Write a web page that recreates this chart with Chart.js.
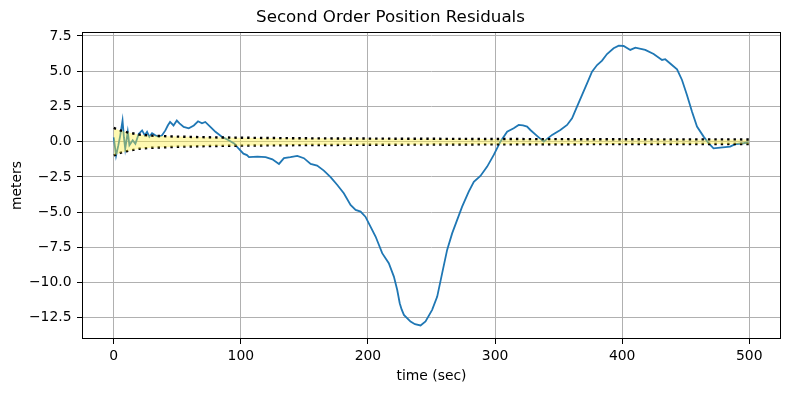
<!DOCTYPE html>
<html>
<head>
<meta charset="utf-8">
<script src="https://cdn.jsdelivr.net/npm/chart.js@4.4.1/dist/chart.umd.min.js"></script>
<style>
  html, body { margin: 0; padding: 0; background: #fff; }
  #wrap { width: 789px; height: 393px; }
</style>
</head>
<body>
<div id="wrap"><canvas id="c" width="789" height="393"></canvas></div>
<script>
// residual trace
const timeSec = [0, 1.8, 3.5, 5, 6.9, 8, 9, 11, 12.3, 14.9, 17, 19.6, 22.3, 24.4, 26.2, 28, 30.1, 32.7, 35.4, 38,
  40.6, 42.5, 44.3, 47, 49.6, 51.7, 55, 59, 63, 66.3, 69.4, 72, 76, 80, 85, 90.4, 95, 98.3, 102, 104.8,
  106.4, 113, 119.5, 124.8, 130, 133.9, 139, 144.4, 149.6, 154.9, 160, 165.3, 170.6, 175.9, 181, 186.3, 190.3, 194.2, 198, 202,
  206, 211.2, 216.4, 220.4, 223, 225, 226.5, 228.3, 233.5, 237, 241.4, 245.3, 250.5, 254.5, 258.4, 262.3, 266.3, 270.2, 274.1, 279.3,
  283.3, 288.5, 293.8, 299, 304.2, 309.5, 314.7, 318.6, 322, 325.2, 327.8, 333, 338.3, 344.9, 351.4, 356.7, 360.6, 364.5, 368.5, 372.4,
  376.3, 380.3, 384.2, 388.1, 393.3, 397.3, 401.2, 406.4, 410.4, 418.2, 424.8, 431.4, 433.9, 439.2, 443.2, 447.1, 451, 455, 458.9, 464.1,
  468, 471.9, 477.2, 485, 489, 495.5, 499.5];
const residual = [0.3, -1.0, -0.3, 0.4, 1.5, 0.3, -0.5, 0.7, -0.25, 0.1, -0.15, 0.55, 0.8, 0.45, 0.7, 0.35, 0.6, 0.45, 0.35, 0.45,
  0.8, 1.15, 1.4, 1.15, 1.5, 1.3, 1.05, 0.95, 1.15, 1.45, 1.3, 1.4, 1.05, 0.7, 0.35, 0.1, -0.15, -0.5, -0.85, -0.95,
  -1.1, -1.06, -1.1, -1.25, -1.58, -1.17, -1.1, -1.01, -1.17, -1.58, -1.7, -2.05, -2.52, -3.07, -3.66, -4.49, -4.84, -4.96, -5.32, -6.03,
  -6.73, -7.91, -8.62, -9.57, -10.51, -11.46, -11.9, -12.29, -12.76, -12.95, -13.04, -12.76, -11.93, -10.99, -9.33, -7.68, -6.49, -5.55, -4.61, -3.54,
  -2.84, -2.43, -1.77, -0.94, 0, 0.71, 0.95, 1.19, 1.15, 1.07, 0.83, 0.41, 0, 0.48, 0.83, 1.19, 1.66, 2.49, 3.32, 4.14,
  4.97, 5.44, 5.75, 6.22, 6.63, 6.81, 6.79, 6.51, 6.67, 6.51, 6.22, 5.8, 5.85, 5.44, 5.14, 4.38, 3.32, 2.13, 1.07, 0.36,
  -0.11, -0.47, -0.42, -0.35, -0.18, -0.11, -0.04];

// one-sigma envelope
const bandTime = [0, 5, 10, 20, 30, 50, 75, 100, 150, 200, 300, 400, 500];
const bandSigma = [0.98, 0.8, 0.68, 0.5, 0.43, 0.36, 0.31, 0.28, 0.24, 0.22, 0.19, 0.17, 0.16];

const xTicks = [0, 100, 200, 300, 400, 500];
const yTicks = [-12.5, -10, -7.5, -5, -2.5, 0, 2.5, 5, 7.5];

const FONT = 'DejaVu Sans';

const pts = (xs, ys) => xs.map((x, i) => ({ x: x, y: ys[i] }));

// matplotlib style closed frame
const frame = {
    id: 'frame',
    afterDatasetsDraw(chart) {
        const a = chart.chartArea, ctx = chart.ctx;
        ctx.save();
        ctx.strokeStyle = '#000';
        ctx.lineWidth = 1;
        ctx.strokeRect(Math.round(a.left) + 0.5, Math.round(a.top) + 0.5,
            Math.round(a.right - a.left) - 1, Math.round(a.bottom - a.top) - 1);
        ctx.restore();
    }
};

new Chart(document.getElementById('c'), {
    type: 'line',
    data: {
        datasets: [
            {
                label: 'upper',
                data: pts(bandTime, bandSigma),
                borderColor: '#000',
                borderWidth: 2.4,
                borderDash: [2.4, 4],
                backgroundColor: 'rgba(255, 240, 60, 0.4)',
                fill: '+1',
                order: 1
            },
            {
                label: 'lower',
                data: pts(bandTime, bandSigma.map(s => -s)),
                borderColor: '#000',
                borderWidth: 2.4,
                borderDash: [2.4, 4],
                fill: false,
                order: 1
            },
            {
                label: 'residual',
                data: pts(timeSec, residual),
                borderColor: '#1f77b4',
                borderWidth: 1.8,
                fill: false,
                order: 2
            }
        ]
    },
    options: {
        responsive: false,
        devicePixelRatio: 1,
        animation: false,
        elements: { point: { radius: 0 }, line: { tension: 0 } },
        layout: { padding: { left: 0, right: 8, top: 0, bottom: 0 } },
        plugins: {
            legend: { display: false },
            tooltip: { enabled: false },
            title: {
                display: true,
                text: 'Second Order Position Residuals',
                color: '#000',
                font: { family: FONT, size: 16.7, weight: 'normal', lineHeight: 1.2 },
                padding: { top: 7.5, bottom: 4.5 }
            }
        },
        scales: {
            x: {
                type: 'linear',
                min: -25,
                max: 525,
                afterBuildTicks: s => { s.ticks = xTicks.map(v => ({ value: v })); },
                afterFit: s => { s.height = 54; },
                ticks: {
                    color: '#000',
                    font: { family: FONT, size: 13.9 },
                    padding: 4,
                    maxRotation: 0,
                    callback: v => String(v)
                },
                grid: { color: '#b0b0b0', lineWidth: 1, tickColor: '#000', tickLength: 5 },
                border: { display: false },
                title: {
                    display: true,
                    text: 'time (sec)',
                    color: '#000',
                    font: { family: FONT, size: 13.9 },
                    padding: { top: 0, bottom: 8.7 }
                }
            },
            y: {
                type: 'linear',
                min: -14.0,
                max: 7.78,
                afterBuildTicks: s => { s.ticks = yTicks.map(v => ({ value: v })); },
                afterFit: s => { s.width = 82; },
                ticks: {
                    color: '#000',
                    font: { family: FONT, size: 13.9 },
                    padding: 5.5,
                    callback: v => v.toFixed(1).replace('-', '\u2212')
                },
                grid: { color: '#b0b0b0', lineWidth: 1, tickColor: '#000', tickLength: 5 },
                border: { display: false },
                title: {
                    display: true,
                    text: 'meters',
                    color: '#000',
                    font: { family: FONT, size: 13.9 },
                    padding: { top: 8.7, bottom: 0 }
                }
            }
        }
    },
    plugins: [frame]
});
</script>
</body>
</html>
